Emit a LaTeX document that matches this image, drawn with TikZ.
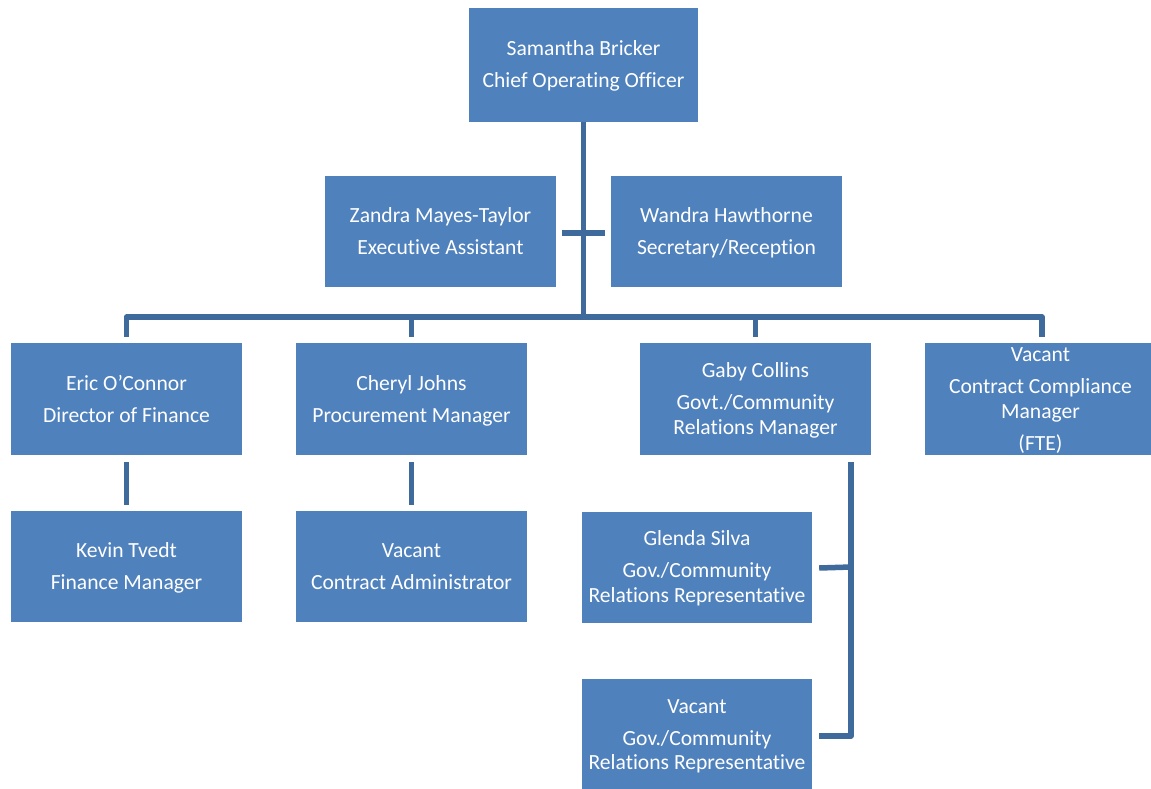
\documentclass[tikz,border=0pt]{standalone}
\usepackage{fontspec}
\setmainfont{Carlito}[Ligatures=NoCommon]
\usetikzlibrary{calc}
\definecolor{boxfill}{HTML}{4F81BD}
\definecolor{linkblue}{HTML}{3F6A9C}
% even out first-line height and last-line depth so every block centres alike
\newcommand\cardtext[1]{\rule{0pt}{20pt}#1\rule[-6pt]{0pt}{6pt}}
\tikzset{
  person/.style={rectangle, fill=boxfill, draw=none, text=white,
    minimum width=231pt, minimum height=111pt, inner xsep=0pt, inner ysep=-5pt,
    align=center, font=\fontsize{21.6}{24.5}\selectfont},
  link/.style={draw=linkblue, line width=5.5pt, line join=round}
}
\begin{document}
\begin{tikzpicture}[x=1pt,y=-1pt]
\useasboundingbox (0,0) rectangle (1151,789);
\fill[white] (0,0) rectangle (1151,789);

% people
\node[person, minimum width=229pt, minimum height=114pt] (coo) at (583.5,65) {\cardtext{Samantha Bricker\\[7.5pt]Chief Operating Officer}};
\node[person] (ea)  at (440.5,231.5) {\cardtext{Zandra Mayes-Taylor\\[7.5pt]Executive Assistant}};
\node[person] (sec) at (726.5,231.5) {\cardtext{Wandra Hawthorne\\[7.5pt]Secretary/Reception}};
\node[person, minimum height=112pt] (fin) at (126.5,399) {\cardtext{Eric O'Connor\\[7.5pt]Director of Finance}};
\node[person, minimum height=112pt] (proc) at (411.5,399) {\cardtext{Cheryl Johns\\[7.5pt]Procurement Manager}};
\node[person, minimum height=112pt] (gov) at (755.5,399) {\cardtext{Gaby Collins\\[7.5pt]Govt./Community\\Relations Manager}};
\node[person, minimum height=112pt] (ccm) at (1040.5,399) {\cardtext{Vacant\\[7.5pt]Contract Compliance\\Manager\\[7.5pt](FTE)}};
\node[person] (fm)  at (126.5,566.5) {\cardtext{Kevin Tvedt\\[7.5pt]Finance Manager}};
\node[person] (ca)  at (411.5,566.5) {\cardtext{Vacant\\[7.5pt]Contract Administrator}};
\node[person, minimum width=230pt] (rep1) at (697,567) {\cardtext{Glenda Silva\\[7.5pt]Gov./Community\\Relations Representative}};
\node[person, minimum width=230pt] (rep2) at (697,734.5) {\cardtext{Vacant\\[7.5pt]Gov./Community\\Relations Representative}};

% junction points
\coordinate (bus) at (583.5,317);
\coordinate (gtop) at (851,462);

% COO down to the bus, with the assistants' cross bar
\draw[link] (coo.south) -- (bus);
\draw[link] ([xshift=6pt,yshift=-1.5pt]ea.east) -- ([xshift=-6pt,yshift=-1.5pt]sec.west);

% bus to the direct reports
\draw[link] ([yshift=6pt]fin.north) |- (bus) -| ([xshift=1.5pt,yshift=6pt]ccm.north);
\draw[link] ([yshift=6pt]proc.north) -- (proc.north |- bus);
\draw[link] ([yshift=6pt]gov.north) -- (gov.north |- bus);

% second level
\draw[link] ([yshift=-7pt]fin.south) -- ([yshift=6pt]fm.north);
\draw[link] ([yshift=-7pt]proc.south) -- ([yshift=6pt]ca.north);
\draw[link] (gtop) |- ([xshift=7pt,yshift=-1.5pt]rep2.east);
\draw[link] ([xshift=7pt,yshift=-1pt]rep1.east) -- (rep1.east -| gtop);
\end{tikzpicture}
\end{document}
